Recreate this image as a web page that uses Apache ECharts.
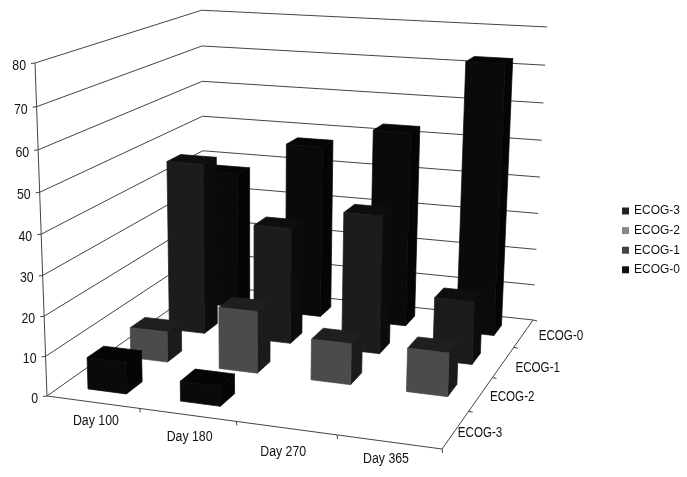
<!DOCTYPE html>
<html>
<head>
<meta charset="utf-8">
<style>html,body{margin:0;background:#fff}#chart{width:687px;height:477px}</style>
<script src="https://cdn.jsdelivr.net/npm/echarts@6/dist/echarts.min.js"></script>
</head>
<body>
<div id="chart"></div>
<script>
// data
var days = ['Day 100', 'Day 180', 'Day 270', 'Day 365'];
var ecogRows = ['ECOG-3', 'ECOG-2', 'ECOG-1', 'ECOG-0']; // front to back
var yTicks = [0, 10, 20, 30, 40, 50, 60, 70, 80];
var ecog3 = [8, 5, 0, 0];
var ecog2 = [8, 16, 10.5, 11];
var ecog1 = [46, 31, 36.5, 16.5];
var ecog0 = [38, 47.5, 53, 72.5];

// styles, same order as ecogRows
var legendColors = ['#222222', '#888888', '#444444', '#111111'];
var frontColors = ['#0a0a0a', '#4b4b4b', '#1c1c1c', '#0a0a0a'];
var topColors = ['#050505', '#1f1f1f', '#0e0e0e', '#060606'];
var sideColors = ['#050505', '#1b1b1b', '#0c0c0c', '#050505'];

// label nudges against the projected spot
var dayNudge = [[3, 19], [2, 22], [-3, 24], [-3, 17]];
var ecogNudge = [[2, 4], [9, 3], [12, 6], [15, 3]];

var FONT = '14px "Liberation Sans", sans-serif';
var LINE = '#444444';
var BOX = 400; // size of the hidden grid that holds the scales

// perspective of the box: X along days, Y along ecog rows, Z up, all 0..1
function project(X, Y, Z) {
  var w = 1 - 0.0793 * X + 0.2225 * Y - 0.0547 * Z;
  return [
    (47 + 360 * X + 202.4 * Y - 13.91 * Z) / w,
    (396 + 17.4 * X - 47.6 * Y - 336.45 * Z) / w
  ];
}

function line(points) {
  return {
    type: 'polyline',
    shape: { points: points },
    style: { stroke: LINE, lineWidth: 1, fill: null }
  };
}

// the original type is a narrow face, so squeeze the text sideways
function label(text, x, y, align, squeeze) {
  return {
    type: 'text',
    x: x,
    y: y,
    scaleX: squeeze,
    style: { text: text, x: 0, y: 0, align: align, verticalAlign: 'middle', font: FONT, fill: '#111' }
  };
}

// scale values through the hidden axes
function toX(api, i) { return api.coord([i, 0])[0] / BOX; }
function toZ(api, v) { return (BOX - api.coord([0, v])[1]) / BOX; }

function renderWalls(params, api) {
  var v = api.value(1);
  var Z = toZ(api, v);
  var a = project(0, 0, Z);
  var children = [
    line([a, project(0, 1, Z), project(1, 1, Z)]),
    line([[a[0] - 4, a[1] + 0.5], a]),
    label(String(v), a[0] - 9, a[1] + 3, 'right', 0.88)
  ];
  if (params.dataIndex === 0) {
    children.push(line([project(0, 0, 0), project(0, 0, 1)]));
    children.push(line([project(0, 0, 0), project(1, 0, 0), project(1, 1, 0)]));
  }
  return { type: 'group', children: children };
}

function renderDays(params, api) {
  var i = api.value(0);
  var cx = toX(api, i);
  var edge = project(cx + 0.125, 0, 0);
  var p = project(cx, 0, 0);
  var n = dayNudge[i];
  return {
    type: 'group',
    children: [
      line([edge, [edge[0] + 0.5, edge[1] + 4]]),
      label(days[i], p[0] + n[0], p[1] + n[1], 'center', 0.88)
    ]
  };
}

function renderRows(params, api) {
  var r = api.value(1);
  var edge = project(1, (r + 1) / 4, 0);
  var p = project(1, (r + 0.5) / 4, 0);
  var n = ecogNudge[r];
  return {
    type: 'group',
    children: [
      line([edge, [edge[0] + 4, edge[1] + 1]]),
      label(ecogRows[r], p[0] + n[0], p[1] + n[1], 'left', 0.83)
    ]
  };
}

function barRenderer(r) {
  return function (params, api) {
    var v = api.value(1);
    if (!v) return null;
    var band = api.size([1, 0])[0] / BOX;
    var cx = toX(api, api.value(0));
    var cy = (r + 0.5) / 4;
    var x0 = cx - band * 0.21, x1 = cx + band * 0.21;
    var y0 = cy - band * 0.185, y1 = cy + band * 0.185;
    var Z = toZ(api, v);
    function face(pts, fill) {
      return {
        type: 'polygon',
        shape: { points: pts.map(function (q) { return project(q[0], q[1], q[2]); }) },
        style: { fill: fill, stroke: fill, lineWidth: 0.7, lineJoin: 'round' }
      };
    }
    return {
      type: 'group',
      children: [
        face([[x1, y0, 0], [x1, y1, 0], [x1, y1, Z], [x1, y0, Z]], sideColors[r]),
        face([[x0, y0, Z], [x1, y0, Z], [x1, y1, Z], [x0, y1, Z]], topColors[r]),
        face([[x0, y0, 0], [x1, y0, 0], [x1, y0, Z], [x0, y0, Z]], frontColors[r])
      ]
    };
  };
}

function barSeries(r, values) {
  return {
    name: ecogRows[r],
    type: 'custom',
    renderItem: barRenderer(r),
    itemStyle: { color: legendColors[r] },
    encode: { x: 0, y: 1 },
    data: values.map(function (v, i) { return [i, v]; }),
    z: 5 - r
  };
}

var chart = echarts.init(document.getElementById('chart'));
chart.setOption({
  animation: false,
  backgroundColor: '#ffffff',
  grid: { left: 0, top: 0, width: BOX, height: BOX, show: false },
  xAxis: { type: 'category', data: days, show: false },
  yAxis: { type: 'value', min: 0, max: 80, interval: 10, show: false },
  legend: {
    data: ecogRows,
    orient: 'vertical',
    left: 622,
    top: 205,
    padding: 0,
    itemWidth: 7,
    itemHeight: 7,
    itemGap: 7.6,
    icon: 'rect',
    selectedMode: false,
    textStyle: { fontFamily: '"Liberation Sans", sans-serif', fontSize: 12, color: '#111' }
  },
  series: [
    {
      type: 'custom',
      renderItem: renderWalls,
      data: yTicks.map(function (v) { return [0, v]; }),
      z: 1
    },
    {
      type: 'custom',
      renderItem: renderDays,
      data: days.map(function (d, i) { return [i, 0]; }),
      z: 1
    },
    {
      type: 'custom',
      renderItem: renderRows,
      data: ecogRows.map(function (e, i) { return [0, i]; }),
      z: 1
    },
    barSeries(3, ecog0),
    barSeries(2, ecog1),
    barSeries(1, ecog2),
    barSeries(0, ecog3)
  ]
});
</script>
</body>
</html>
